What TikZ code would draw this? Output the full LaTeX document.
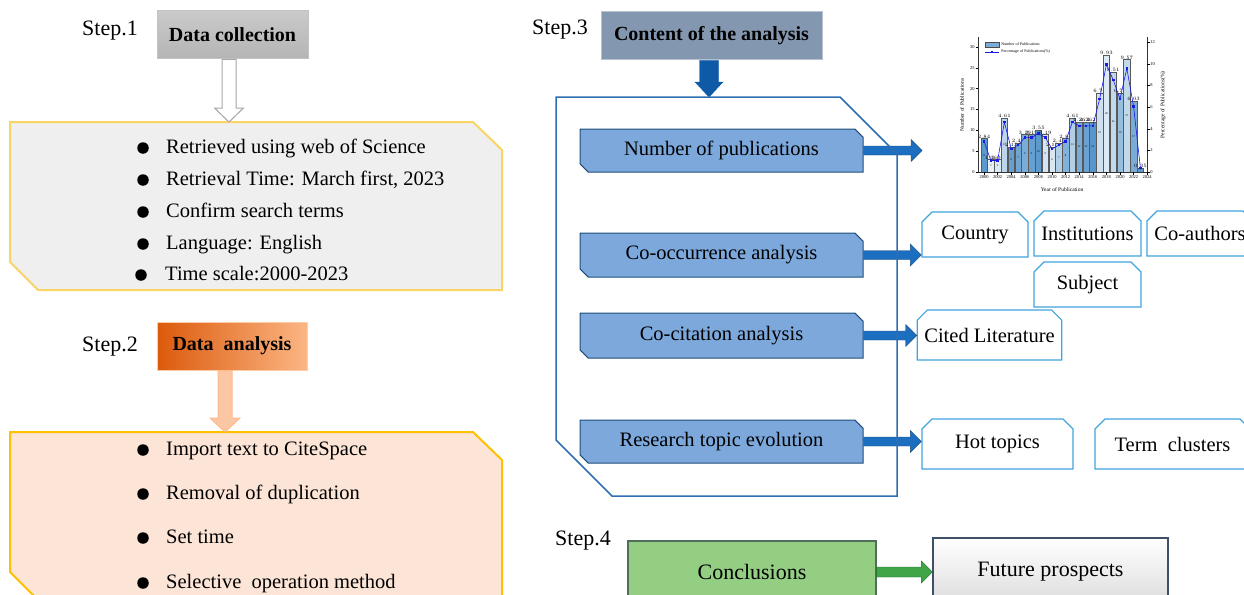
\documentclass[tikz,border=0pt]{standalone}
\usepackage{fontspec}
\setmainfont{Liberation Serif}
\usetikzlibrary{calc,shapes.misc}

\definecolor{sonefill}{HTML}{EFEFEF}
\definecolor{soneline}{HTML}{FAD566}
\definecolor{stwofill}{HTML}{FCE4D6}
\definecolor{stwoline}{HTML}{FFC000}
\definecolor{hdgrayA}{HTML}{CACACA}
\definecolor{hdgrayB}{HTML}{B4B4B4}
\definecolor{hdorA}{HTML}{DC5A0C}
\definecolor{hdorB}{HTML}{FBB684}
\definecolor{hdslate}{HTML}{8497B0}
\definecolor{arrgray}{HTML}{A6A6A6}
\definecolor{peach}{HTML}{FBC6A4}
\definecolor{dblue}{HTML}{0F5AA6}
\definecolor{outblue}{HTML}{2E6DB2}
\definecolor{anfill}{HTML}{7CA8DC}
\definecolor{anline}{HTML}{1F4E79}
\definecolor{sblue}{HTML}{1C6EC1}
\definecolor{imgline}{HTML}{41A4DE}
\definecolor{barc}{HTML}{3F88C5}
\definecolor{pcblue}{HTML}{1A1AE6}
\definecolor{cgreen}{HTML}{93CE83}
\definecolor{cgline}{HTML}{4F6E5C}
\definecolor{garr}{HTML}{3FA547}
\definecolor{garrline}{HTML}{1E6B2A}
\definecolor{fpline}{HTML}{3E5068}

\newcommand\rblk[6]{\draw[#6] let \p1=#1, \p2=#2 in (\x1,\y1+#3) -- (\x2-#5,\y1+#3) -- (\x2-#5,\y1+#4) -- (\x2,\y1) -- (\x2-#5,\y1-#4) -- (\x2-#5,\y1-#3) -- (\x1,\y1-#3) -- cycle;}
\newcommand\dblk[6]{\draw[#6] let \p1=#1, \p2=#2 in (\x1-#3,\y1) -- (\x1-#3,\y2+#5) -- (\x1-#4,\y2+#5) -- (\x1,\y2) -- (\x1+#4,\y2+#5) -- (\x1+#3,\y2+#5) -- (\x1+#3,\y1) -- cycle;}

\begin{document}
\begin{tikzpicture}[x=1pt, y=-1pt,
  steplbl/.style={font=\fontsize{22}{22}\selectfont},
  hdbox/.style={minimum height=48pt, inner sep=0pt, line width=1pt, font=\bfseries\fontsize{20}{20}\selectfont},
  itemtxt/.style={anchor=west, inner sep=0pt, text height=14pt, text depth=4pt, font=\fontsize{20.5}{20.5}\selectfont},
  dot/.style={circle, fill, inner sep=0pt, minimum size=11.5pt},
  anbox/.style={chamfered rectangle, chamfered rectangle corners={north east,south west}, chamfered rectangle xsep=5pt, draw=anline, fill=anfill, line width=1pt, minimum width=283pt, inner sep=0pt, font=\fontsize{20.5}{20.5}\selectfont},
  imgbox/.style={chamfered rectangle, chamfered rectangle corners={north west,north east}, chamfered rectangle xsep=7pt, draw=imgline, fill=white, line width=1.2pt, inner sep=0pt, font=\fontsize{20.5}{20.5}\selectfont},
  tinytxt/.style={inner sep=0.2pt, font=\fontsize{2.8}{2.8}\selectfont},
  axtxt/.style={inner sep=0pt, font=\fontsize{5.5}{5.5}\selectfont}]
\useasboundingbox (0,0) rectangle (1244,594);

\node[steplbl] (st1) at (110,31) {Step.1};
\node[hdbox, top color=hdgrayA, bottom color=hdgrayB, draw=hdgrayB!80!white, minimum width=151pt] (dc) at (232.5,35) {Data collection};
\coordinate (s1in) at (229,122);
\draw[fill=sonefill, draw=soneline, line width=2pt] (10,122) -- (473,122) -- (502,150) -- (502,290) -- (38,290) -- (10,262) -- cycle;
\dblk{(dc.south -| s1in)}{(s1in)}{7pt}{14.5pt}{14pt}{fill=white, draw=arrgray, line width=1pt}

\node[dot] (b11) at (143,148) {};
\node[itemtxt] (t11) at (166,148) {Retrieved using web of Science};
\node[dot] (b12) at (143,180) {};
\node[itemtxt] (t12) at (166,180) {Retrieval Time: March first, 2023};
\node[dot] (b13) at (143,212) {};
\node[itemtxt] (t13) at (166,212) {Confirm search terms};
\node[dot] (b14) at (143,244) {};
\node[itemtxt] (t14) at (166,244) {Language: English};
\node[dot] (b15) at (141,275) {};
\node[itemtxt] (t15) at (165,275) {Time scale:2000-2023};

\node[steplbl] (st2) at (110,347) {Step.2};
\node[hdbox, left color=hdorA, right color=hdorB, draw=hdorB!70!white, minimum width=150pt] (da) at (232,346) {Data\ \ analysis};
\coordinate (s2in) at (225,432);
\draw[fill=stwofill, draw=stwoline, line width=2pt] (10,432) -- (473,432) -- (502,460) -- (502,612) -- (50,612) -- (10,572) -- cycle;
\dblk{(da.south -| s2in)}{(s2in)}{7pt}{15pt}{14pt}{fill=peach, draw=peach!85!orange, line width=1pt}

\node[dot] (b21) at (143,450) {};
\node[itemtxt] (t21) at (166,450) {Import text to CiteSpace};
\node[dot] (b22) at (143,494) {};
\node[itemtxt] (t22) at (166,494) {Removal of duplication};
\node[dot] (b23) at (143,538) {};
\node[itemtxt] (t23) at (166,538) {Set time};
\node[dot] (b24) at (143,583) {};
\node[itemtxt] (t24) at (166,583) {Selective\ \ operation method};

\node[steplbl] (st3) at (560,30) {Step.3};
\node[hdbox, fill=hdslate, draw=hdslate!60!white, minimum width=221pt] (ca) at (711.5,36) {Content of the analysis};
\coordinate (s3in) at (709,97);
\dblk{(ca.south -| s3in)}{(s3in)}{9.5pt}{14pt}{15pt}{fill=dblue, draw=dblue}

\node[anbox, minimum height=43pt] (np) at (721.5,150.5) {Number of publications};
\node[anbox, minimum height=44pt] (coo) at (721.5,255) {Co-occurrence analysis};
\node[anbox, minimum height=45pt] (cit) at (721.5,335.5) {Co-citation analysis};
\node[anbox, minimum height=43pt] (rte) at (721.5,441.5) {Research topic evolution};

\node[imgbox, minimum width=106pt, minimum height=45pt] (cty) at (975,234.5) {Country};
\node[imgbox, minimum width=107pt, minimum height=45pt] (ins) at (1087.5,233.5) {Institutions};
\node[imgbox, minimum width=106pt, minimum height=45pt] (cau) at (1200,233.5) {Co-authors};
\node[imgbox, minimum width=107pt, minimum height=45pt] (sub) at (1087.5,284.5) {Subject};
\node[imgbox, minimum width=135pt, minimum height=50pt] (cl) at (989.5,335) {Cited Literature};
\node[imgbox, minimum width=151pt, minimum height=50pt] (hot) at (997.5,444) {Hot topics};
\node[imgbox, minimum width=155pt, minimum height=50pt] (tc) at (1172.5,444) {Term\ \ clusters};

\coordinate (chart) at (922,150);
\rblk{(np.east)}{(chart)}{4.5pt}{11pt}{11pt}{fill=sblue, draw=anline}
\rblk{(coo.east)}{(cty.west)}{4.5pt}{11pt}{11pt}{fill=sblue, draw=anline}
\rblk{(cit.east)}{(cl.west)}{4.5pt}{11pt}{11pt}{fill=sblue, draw=anline}
\rblk{(rte.east)}{(hot.west)}{4.5pt}{11pt}{11pt}{fill=sblue, draw=anline}

\draw[outblue, line width=1.5pt] (556,97) -- (840,97) -- (897,154) -- (897,496) -- (612,496) -- (556,440) -- cycle;

\foreach \n/\s [count=\i from 0] in {8/85,3/12,3/18,13/35,6/80,7/75,9/70,9/80,10/85,9/22,6/20,7/40,8/65,13/40,12/70,12/78,12/88,19/25,28/18,24/32,19/55,27/32,17/70,1/85}{
  \pgfmathsetmacro\bx{984+\i*6.8}
  \pgfmathsetmacro\by{172-\n*4.17}
  \pgfmathsetmacro\pc{\n/2.82}
  \draw[fill=barc!\s!white, draw=gray!70!black, line width=0.3pt] (\bx-3.2,172) rectangle (\bx+3.2,\by);
  \node[tinytxt] (cnt\i) at (\bx,{(172+\by)/2}) {\n};
  \node[tinytxt, anchor=south] (pct\i) at (\bx,\by) {\pgfmathprintnumber[fixed,precision=2,fixed zerofill]{\pc}};
}
\draw[pcblue, line width=0.6pt] (984,{172-8*3.84}) \foreach \n [count=\i] in {3,3,13,6,7,9,9,10,9,6,7,8,13,12,12,12,19,28,24,19,27,17,1} { -- ({984+\i*6.8},{172-\n*3.84}) };
\foreach \n [count=\i from 0] in {8,3,3,13,6,7,9,9,10,9,6,7,8,13,12,12,12,19,28,24,19,27,17,1}
  \fill[pcblue] ({984+\i*6.8-1.3},{172-\n*3.84-1.3}) rectangle ++(2.6,2.6);

\draw[line width=0.4pt, gray!40!black] (978,37) -- (978,172) -- (1147,172) -- (1147,37);
\foreach \v in {0,5,...,30}{
  \draw[line width=0.3pt] (975.5,{172-\v*4.17}) -- (978,{172-\v*4.17});
  \node[tinytxt, anchor=east, font=\fontsize{4.5}{4.5}\selectfont] at (975,{172-\v*4.17}) {\v};
}
\foreach \v in {0,2,...,12}{
  \draw[line width=0.3pt] (1147,{172-\v*10.83}) -- (1149.5,{172-\v*10.83});
  \node[tinytxt, anchor=west, font=\fontsize{4.5}{4.5}\selectfont] at (1150,{172-\v*10.83}) {\v};
}
\foreach \k in {0,...,12}{
  \pgfmathtruncatemacro\yr{2000+2*\k}
  \draw[line width=0.3pt] ({984+2*\k*6.8},172) -- ({984+2*\k*6.8},174.5);
  \node[tinytxt, anchor=north, font=\fontsize{4.5}{4.5}\selectfont] at ({984+2*\k*6.8},175) {\yr};
}
\node[axtxt, rotate=90] (ylab) at (962,105) {Number of Publications};
\node[axtxt, rotate=90] (rlab) at (1163,105) {Percentage of Publications(\%)};
\node[axtxt] (xlab) at (1062,190) {Year of Publication};
\draw[fill=barc!70!white, draw=gray!60!black, line width=0.3pt] (985,42) rectangle (999,47);
\node[tinytxt, anchor=west, font=\fontsize{4}{4}\selectfont] (lg1) at (1001,44.5) {Number of Publications};
\draw[pcblue, line width=0.6pt] (985,52) -- (999,52);
\fill[pcblue] (990.7,50.7) rectangle ++(2.6,2.6);
\node[tinytxt, anchor=west, font=\fontsize{4}{4}\selectfont] (lg2) at (1001,52) {Percentage of Publications(\%)};

\node[steplbl] (st4) at (583,541) {Step.4};
\node[draw=cgline, fill=cgreen, line width=1.2pt, minimum width=248pt, minimum height=62pt, font=\fontsize{22}{22}\selectfont] (cc) at (752,572) {Conclusions};
\node[draw=fpline, top color=white, bottom color=gray!28, line width=1.2pt, minimum width=235pt, minimum height=68pt, font=\fontsize{22}{22}\selectfont] (fp) at (1050.5,572) {Future prospects};
\rblk{(cc.east)}{(fp.west)}{5pt}{11pt}{11pt}{fill=garr, draw=garrline}

\end{tikzpicture}
\end{document}
